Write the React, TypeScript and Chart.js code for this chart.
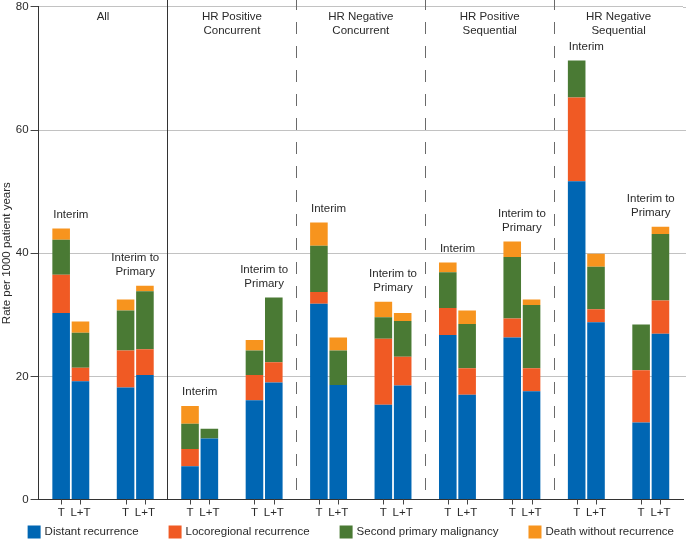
import React, { useEffect, useRef } from "react";
import { Chart, registerables } from "chart.js";

Chart.register(...registerables);

// ---- data ----
const groupNames = ["All", "HR Positive\nConcurrent", "HR Negative\nConcurrent", "HR Positive\nSequential", "HR Negative\nSequential"];
const phaseNames = ["Interim", "Interim to\nPrimary"];
const armNames = ["T", "L+T"];
const seriesNames = ["Distant recurrence", "Locoregional recurrence", "Second primary malignancy", "Death without recurrence"];
const seriesColors = ["#0066B3", "#F05A24", "#4A7A34", "#F7941E"];

// one entry per group x phase (All-Interim, All-ItP, HRPC-Interim, ...)
const distantT = [30.3, 18.2, 5.4, 16.1, 31.8, 15.4, 26.7, 26.3, 51.7, 12.5];
const locoT = [6.2, 6.0, 2.8, 4.1, 1.9, 10.7, 4.4, 3.1, 13.6, 8.5];
const secondT = [5.7, 6.5, 4.1, 4.0, 7.5, 3.5, 5.8, 10.0, 6.0, 7.4];
const deathT = [1.8, 1.8, 2.9, 1.7, 3.8, 2.5, 1.6, 2.5, 0, 0];

const distantLT = [19.2, 20.2, 9.9, 19.0, 18.6, 18.5, 17.0, 17.6, 28.8, 26.9];
const locoLT = [2.2, 4.2, 0, 3.3, 0, 4.7, 4.3, 3.7, 2.1, 5.4];
const secondLT = [5.7, 9.4, 1.6, 10.5, 5.6, 5.8, 7.2, 10.3, 6.9, 10.8];
const deathLT = [1.8, 0.9, 0, 0, 2.1, 1.3, 2.2, 0.9, 2.1, 1.2];

const yTicks = [0, 20, 40, 60, 80];
const yTitle = "Rate per 1000 patient years";

const armSeries = [
  [distantT, locoT, secondT, deathT],
  [distantLT, locoLT, secondLT, deathLT],
];

const FONT = "'Liberation Sans', Arial, Helvetica, sans-serif";
const FS = 11.5;
const TEXT = "#2a2a2a";

const categories: string[] = [];
groupNames.forEach((g) => phaseNames.forEach((p) => categories.push(g + " | " + p)));

const overlay = {
  id: "overlay",
  beforeDatasetsDraw(chart: any) {
    const { ctx, chartArea } = chart;
    const x = chart.scales.x;
    const per = phaseNames.length;
    // extend horizontal grid lines to the right edge of the canvas
    const y = chart.scales.y;
    ctx.save();
    ctx.strokeStyle = "#c2c2c2";
    ctx.lineWidth = 1;
    yTicks.forEach((v) => {
      if (v === yTicks[0]) return;
      const yp = Math.round(y.getPixelForValue(v)) + 0.5;
      ctx.beginPath();
      ctx.moveTo(chartArea.right, yp);
      ctx.lineTo(chart.width, yp);
      ctx.stroke();
    });
    ctx.restore();
    for (let g = 1; g < groupNames.length; g++) {
      const i = g * per;
      const xp = Math.round((x.getPixelForValue(i - 1) + x.getPixelForValue(i)) / 2) + 0.5;
      ctx.save();
      ctx.lineWidth = 1;
      if (g === 1) {
        ctx.strokeStyle = "#333";
        ctx.setLineDash([]);
      } else {
        ctx.strokeStyle = "#6a6a6a";
        ctx.setLineDash([12, 12]);
        ctx.lineDashOffset = 2;
      }
      ctx.beginPath();
      ctx.moveTo(xp, 0);
      ctx.lineTo(xp, chartArea.bottom);
      ctx.stroke();
      ctx.restore();
    }
  },
  afterDatasetsDraw(chart: any) {
    const { ctx, chartArea } = chart;
    const x = chart.scales.x;
    const per = phaseNames.length;
    const nSeries = seriesNames.length;
    ctx.save();
    ctx.font = `${FS}px ${FONT}`;
    ctx.fillStyle = TEXT;
    ctx.textAlign = "center";
    ctx.textBaseline = "middle";

    // group headers
    groupNames.forEach((g, gi) => {
      const cx = (x.getPixelForValue(gi * per) + x.getPixelForValue(gi * per + per - 1)) / 2;
      g.split("\n").forEach((line, li) => {
        ctx.fillText(line, cx, chartArea.top + 10 + li * 13.5);
      });
    });

    // phase annotations above each pair
    categories.forEach((_, ci) => {
      let top = Infinity;
      const xs: number[] = [];
      chart.data.datasets.forEach((ds: any, di: number) => {
        const el = chart.getDatasetMeta(di).data[ci];
        if (el && ds.data[ci] > 0) top = Math.min(top, el.y);
        if (el) xs.push(el.x);
      });
      const cx = (Math.min(...xs) + Math.max(...xs)) / 2;
      const lines = phaseNames[ci % per].split("\n");
      lines.forEach((line, li) => {
        ctx.fillText(line, cx, top - 14 - (lines.length - 1 - li) * 14);
      });
    });

    // arm tick marks and labels
    armNames.forEach((arm, ai) => {
      const meta = chart.getDatasetMeta(ai * nSeries);
      meta.data.forEach((el: any) => {
        const bx = Math.round(el.x) + 0.5;
        ctx.strokeStyle = "#444";
        ctx.lineWidth = 1;
        ctx.beginPath();
        ctx.moveTo(bx, chartArea.bottom);
        ctx.lineTo(bx, chartArea.bottom + 5);
        ctx.stroke();
        ctx.fillText(arm, el.x, chartArea.bottom + 13);
      });
    });

    // legend
    const box = 13;
    const boxGap = 4;
    const gap = 30;
    const widths = seriesNames.map((s) => ctx.measureText(s).width);
    const total = widths.reduce((a, w) => a + box + boxGap + w, 0) + gap * (seriesNames.length - 1);
    let lx = (chartArea.left + chartArea.right) / 2 - 10 - total / 2;
    const ly = chart.height - 8;
    ctx.textAlign = "left";
    seriesNames.forEach((s, si) => {
      ctx.fillStyle = seriesColors[si];
      ctx.fillRect(lx, ly - box / 2, box, box);
      ctx.fillStyle = TEXT;
      ctx.fillText(s, lx + box + boxGap, ly);
      lx += box + boxGap + widths[si] + gap;
    });
    ctx.restore();
  },
};

export default function App() {
  const ref = useRef<HTMLCanvasElement | null>(null);

  useEffect(() => {
    if (!ref.current) return;
    const datasets: any[] = [];
    armNames.forEach((arm, ai) => {
      seriesNames.forEach((s, si) => {
        datasets.push({
          label: s,
          data: armSeries[ai][si],
          backgroundColor: seriesColors[si],
          borderWidth: 0,
          stack: arm,
          categoryPercentage: 0.6,
          barPercentage: 0.91,
        });
      });
    });

    const chart = new Chart(ref.current, {
      type: "bar",
      data: { labels: categories, datasets },
      plugins: [overlay],
      options: {
        animation: false,
        responsive: false,
        devicePixelRatio: 1,
        layout: { padding: { top: 0, right: 3, bottom: 40.5, left: 0 } },
        plugins: {
          legend: { display: false },
          tooltip: { enabled: false },
        },
        scales: {
          x: {
            stacked: true,
            ticks: { display: false },
            grid: { display: false, drawTicks: false },
            border: { display: true, color: "#333", width: 1 },
          },
          y: {
            stacked: true,
            min: yTicks[0],
            max: yTicks[yTicks.length - 1],
            afterBuildTicks: (scale: any) => {
              scale.ticks = yTicks.map((v) => ({ value: v }));
            },
            ticks: {
              color: TEXT,
              padding: 2,
              font: { family: FONT, size: FS, lineHeight: 0.85 },
            },
            grid: {
              color: (c: any) => (c.tick && c.tick.value === 0 ? "rgba(0,0,0,0)" : "#c2c2c2"),
              tickColor: "#444",
              tickLength: 8,
              lineWidth: 1,
            },
            border: { display: true, color: "#333", width: 1 },
            title: {
              display: true,
              text: yTitle,
              color: TEXT,
              font: { family: FONT, size: FS },
              padding: { top: 0, bottom: 0 },
            },
          },
        },
      } as any,
    });
    return () => chart.destroy();
  }, []);

  return (
    <div style={{ position: "absolute", left: 0, top: 0, width: 686, height: 540, background: "#fff" }}>
      <canvas ref={ref} width={686} height={540} style={{ display: "block" }} />
    </div>
  );
}
